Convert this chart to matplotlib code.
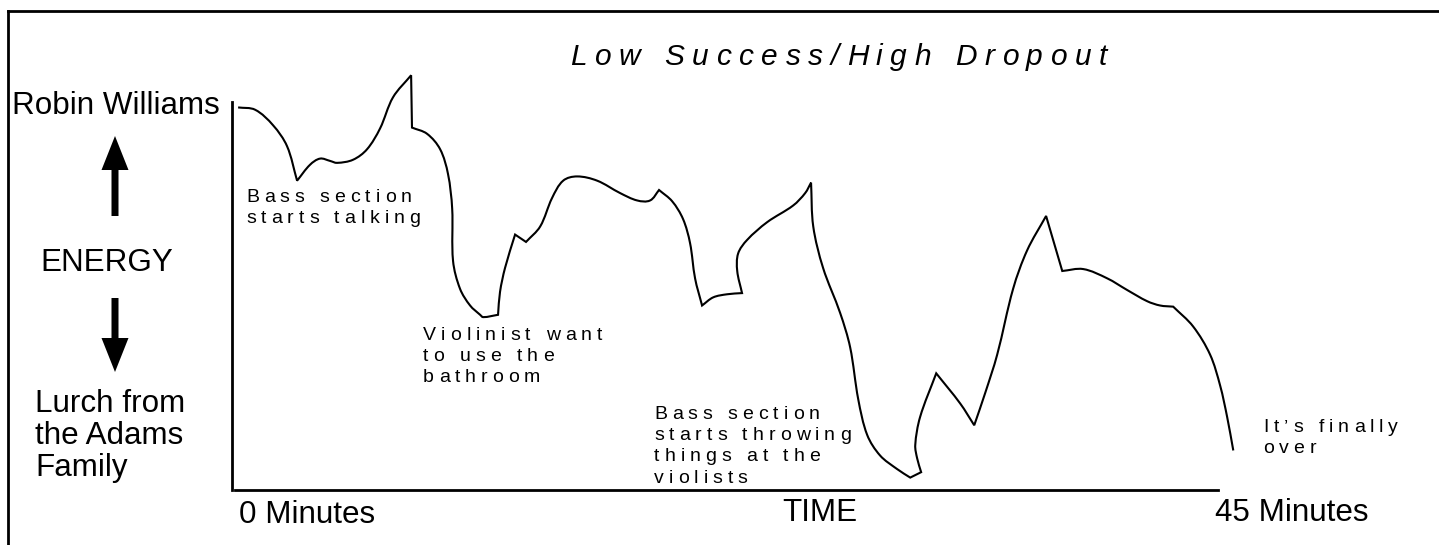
import numpy as np
import matplotlib
matplotlib.use("Agg")
import matplotlib.pyplot as plt
from matplotlib.patches import FancyArrow, PathPatch
from matplotlib.path import Path
from matplotlib.font_manager import FontProperties, findfont, get_font


# energy curve (time in minutes, energy 0 = Lurch .. 10 = Robin Williams)
time_min = [
    0.14, 0.92, 1.74, 2.38, 2.84, 3.43, 3.89, 4.35, 4.67, 5.40,
    6.04, 6.64, 7.23, 8.06, 8.10, 8.79, 9.39, 9.75, 9.94, 9.98,
    10.30, 10.76, 11.22, 11.36, 12.04, 12.13, 12.36, 12.82, 13.32, 13.97,
    14.51, 15.02, 15.66, 16.58, 17.63, 18.41, 19.00, 19.41, 20.01, 20.51,
    20.83, 21.06, 21.38, 21.89, 22.53, 23.21, 22.99, 23.03, 23.44, 24.36,
    25.55, 26.10, 26.37, 26.47, 26.92, 27.70, 28.16, 28.53, 28.94, 29.53,
    30.31, 30.91, 31.41, 31.23, 31.14, 31.36, 32.10, 33.20, 33.84, 34.34,
    34.89, 35.62, 36.26, 37.13, 37.87, 38.83, 39.93, 40.84, 41.76, 42.35,
    42.95, 43.86, 44.64, 45.10, 45.42, 45.70,
]
energy = [
    9.87, 9.81, 9.41, 8.87, 7.98, 8.39, 8.55, 8.49, 8.44, 8.52,
    8.79, 9.33, 10.13, 10.70, 9.35, 9.19, 8.79, 8.15, 7.26, 5.91,
    5.19, 4.76, 4.52, 4.46, 4.52, 5.11, 5.73, 6.59, 6.40, 6.80,
    7.53, 7.98, 8.09, 7.98, 7.66, 7.47, 7.47, 7.74, 7.45, 6.99,
    6.37, 5.46, 4.76, 4.97, 5.05, 5.08, 5.65, 6.10, 6.45, 6.91,
    7.34, 7.66, 7.93, 6.80, 5.73, 4.57, 3.68, 2.34, 1.42, 0.89,
    0.54, 0.32, 0.46, 0.81, 1.16, 1.88, 3.01, 2.23, 1.67, 2.50,
    3.49, 5.19, 6.18, 7.07, 5.65, 5.70, 5.46, 5.16, 4.87, 4.76,
    4.73, 4.22, 3.49, 2.69, 1.88, 1.02,
]
# points where the hand-drawn line has a sharp corner
corner_idx = [4, 13, 14, 24, 27, 28, 37, 42, 45, 52, 61, 62, 66, 68, 73, 74, 80]

title = "Low Success/High Dropout"
note_lines = [
    ["Bass section", "starts talking"],
    ["Violinist want", "to use the", "bathroom"],
    ["Bass section", "starts throwing", "things at the", "violists"],
    ["It\u2019s finally", "over"],
]
top_label = "Robin Williams"
mid_label = "ENERGY"
bottom_label = ["Lurch from", "the Adams", "Family"]
x_start_label = "0 Minutes"
x_mid_label = "TIME"
x_end_label = "45 Minutes"

W, H = 1439, 545
FONT = "Liberation Sans"
PX_PER_MIN, PX_PER_ENERGY = 21.84, 38.76


def spaced_text(ax, x, y, s, size, spacing, style="normal"):
    # no letter-spacing in matplotlib, so place the glyphs one by one
    prop = FontProperties(family=FONT, style=style, size=size)
    font = get_font(findfont(prop))
    for ch in s:
        ax.text(x, y, ch, fontproperties=prop, ha="left", va="baseline")
        font.set_size(size, 100)
        glyph = font.load_char(ord(ch))
        x += glyph.linearHoriAdvance / 65536 + spacing


def smooth_path(xs, ys, corners):
    # bezier through the read points, sharp at the corners
    p = np.column_stack([np.array(xs) * PX_PER_MIN, np.array(ys) * PX_PER_ENERGY])
    n = len(p)

    def unit(v):
        return v / np.hypot(*v)

    d_in, d_out = np.zeros_like(p), np.zeros_like(p)
    for i in range(n):
        if i == 0:
            d_in[i] = d_out[i] = unit(p[1] - p[0])
        elif i == n - 1:
            d_in[i] = d_out[i] = unit(p[i] - p[i - 1])
        elif i in corners:
            d_in[i] = unit(p[i] - p[i - 1])
            d_out[i] = unit(p[i + 1] - p[i])
        else:
            d_in[i] = d_out[i] = unit(p[i + 1] - p[i - 1])
    verts, codes = [p[0]], [Path.MOVETO]
    for i in range(n - 1):
        seg = np.hypot(*(p[i + 1] - p[i])) / 3
        verts += [p[i] + d_out[i] * seg, p[i + 1] - d_in[i + 1] * seg, p[i + 1]]
        codes += [Path.CURVE4] * 3
    verts = np.array(verts) / [PX_PER_MIN, PX_PER_ENERGY]
    return Path(verts, codes)


fig = plt.figure(figsize=(W / 100, H / 100), dpi=100)

# -----------------------------
# main plot: energy over time
# -----------------------------
ax = fig.add_axes([232 / W, (H - 490) / H, 986 / W, 427.5 / H])
ax.add_patch(PathPatch(smooth_path(time_min, energy, set(corner_idx)),
                       fill=False, color="black", lw=1.5, clip_on=False))
ax.set_xlim(-0.14, 45)
ax.set_ylim(0, 427.5 / PX_PER_ENERGY)
ax.patch.set_visible(False)
for side in ["top", "right"]:
    ax.spines[side].set_visible(False)
ax.spines["left"].set_bounds(0, 10)
ax.spines["bottom"].set_bounds(0, 45)
for side in ["left", "bottom"]:
    ax.spines[side].set_linewidth(2)
ax.set_xticks([])
ax.set_yticks([])

# -----------------------------
# overlay in pixel units: frame, labels, arrows
# -----------------------------
ov = fig.add_axes([8 / W, 0, (W - 8) / W, (H - 11) / H])
ov.set_xlim(8, W)
ov.set_ylim(H, 11)
ov.patch.set_visible(False)
ov.set_xticks([])
ov.set_yticks([])
for side in ["right", "bottom"]:
    ov.spines[side].set_visible(False)
for side in ["left", "top"]:
    ov.spines[side].set_linewidth(2)

spaced_text(ov, 570, 64.6, title, 21.5, 7.7, style="italic")

note_pos = [(246, 202), (423, 340), (654, 419), (1263, 432)]
for (nx, ny), lines in zip(note_pos, note_lines):
    for i, line in enumerate(lines):
        spaced_text(ov, nx, ny + i * 21.2, line, 14, 5.0)

big = dict(fontsize=22.6, family=FONT, va="baseline")
ov.text(12, 113.6, top_label, ha="left", **big)
ov.text(40, 271, mid_label, ha="left", **big)
for i, line in enumerate(bottom_label):
    ov.text(35, 411.6 + i * 32.3, line, ha="left", **big)
ov.text(239, 523, x_start_label, ha="left", **big)
ov.text(782, 521, x_mid_label, ha="left", **big)
ov.text(1215, 521, x_end_label, ha="left", **big)

ov.add_patch(FancyArrow(115, 216, 0, -80, width=7, head_width=27, head_length=34,
                        length_includes_head=True, color="black", lw=0))
ov.add_patch(FancyArrow(115, 298, 0, 74, width=7, head_width=27, head_length=34,
                        length_includes_head=True, color="black", lw=0))

fig.savefig("out.png", dpi=100)
